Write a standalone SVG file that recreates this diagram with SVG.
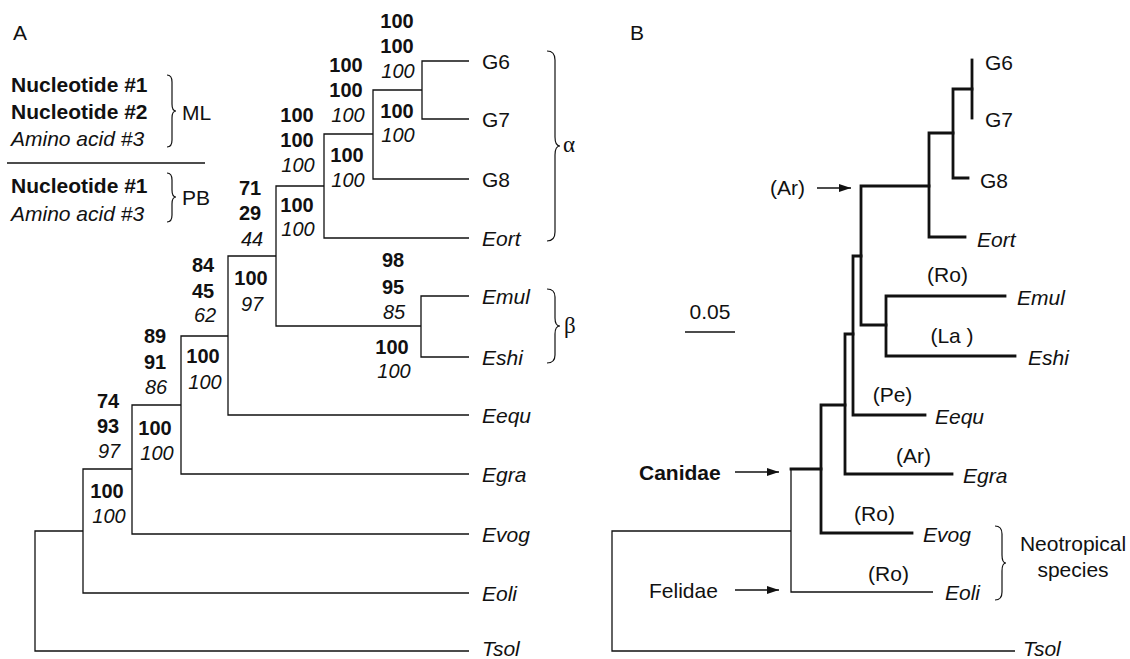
<svg xmlns="http://www.w3.org/2000/svg" width="1130" height="659" viewBox="0 0 1130 659">
<style>
text{fill:#111;font-family:"Liberation Sans",Arial,sans-serif}
.b{font-weight:bold;font-size:20px;text-anchor:middle}
.i{font-style:italic;font-size:20px;text-anchor:middle}
.lg{font-weight:bold;font-size:21px}
.lgi{font-style:italic;font-size:21px}
.t{font-size:21px}
.ti{font-size:21px;font-style:italic}
.c{text-anchor:middle}
.gr{font-family:"Liberation Serif","DejaVu Serif",serif;font-size:23px}
.thin{fill:none;stroke:#111;stroke-width:1.3}
.thick{fill:none;stroke:#111;stroke-width:2.8;stroke-linecap:square}
.br{fill:none;stroke:#111;stroke-width:1.2}
</style>
<defs>
<marker id="ah" markerUnits="userSpaceOnUse" markerWidth="12" markerHeight="8" refX="12" refY="4" orient="auto">
<path d="M0,0 L12,4 L0,8 z" fill="#111"/>
</marker>
</defs>
<g id="panel-labels">
<text class="t" x="13" y="40">A</text>
<text class="t" x="630" y="40">B</text>
</g>
<g id="legend">
<text class="lg" x="11" y="92">Nucleotide #1</text>
<text class="lg" x="11" y="119">Nucleotide #2</text>
<text class="lgi" x="11" y="146">Amino acid #3</text>
<path class="br" d="M167,75 Q172,75 172,82 V104 Q172,111 176,111 Q172,111 172,118 V140 Q172,147 167,147"/>
<text class="t" x="182" y="120">ML</text>
<path class="thin" d="M7,163 H205"/>
<text class="lg" x="11" y="193">Nucleotide #1</text>
<text class="lgi" x="11" y="221">Amino acid #3</text>
<path class="br" d="M167,173 Q172,173 172,180 V190 Q172,197 176,197 Q172,197 172,204 V215 Q172,222 167,222"/>
<text class="t" x="182" y="205">PB</text>
</g>
<g id="connectors-A">
<path class="thin" d="M469,61 H422 V119 H469"/>
<path class="thin" d="M422,90 H373 V179 H469"/>
<path class="thin" d="M373,134 H324 V238 H469"/>
<path class="thin" d="M324,186 H276 V326 H421"/>
<path class="thin" d="M469,296 H421 V357 H469"/>
<path class="thin" d="M276,256 H228 V415 H469"/>
<path class="thin" d="M228,336 H181 V474 H469"/>
<path class="thin" d="M181,405 H132 V534 H469"/>
<path class="thin" d="M132,469 H83 V593 H469"/>
<path class="thin" d="M83,531 H35 V651 H469"/>
</g>
<g id="support-A">
<g id="s-g6g7"><text class="b" x="397" y="28">100</text><text class="b" x="397" y="53">100</text><text class="i" x="398" y="78">100</text><text class="b" x="397" y="118">100</text><text class="i" x="398" y="142">100</text></g>
<g id="s-g8"><text class="b" x="346" y="72">100</text><text class="b" x="346" y="97">100</text><text class="i" x="348" y="122">100</text><text class="b" x="347" y="162">100</text><text class="i" x="348" y="187">100</text></g>
<g id="s-alpha"><text class="b" x="297" y="122">100</text><text class="b" x="297" y="147">100</text><text class="i" x="298" y="172">100</text><text class="b" x="297" y="212">100</text><text class="i" x="298" y="236">100</text></g>
<g id="s-ab"><text class="b" x="250" y="195">71</text><text class="b" x="250" y="220">29</text><text class="i" x="252" y="246">44</text><text class="b" x="251" y="285">100</text><text class="i" x="252" y="311">97</text></g>
<g id="s-beta"><text class="b" x="393" y="267">98</text><text class="b" x="393" y="294">95</text><text class="i" x="394" y="319">85</text><text class="b" x="392" y="354">100</text><text class="i" x="394" y="378">100</text></g>
<g id="s-eequ"><text class="b" x="203" y="272">84</text><text class="b" x="203" y="298">45</text><text class="i" x="205" y="322">62</text><text class="b" x="203" y="363">100</text><text class="i" x="205" y="389">100</text></g>
<g id="s-egra"><text class="b" x="155" y="343">89</text><text class="b" x="155" y="369">91</text><text class="i" x="156" y="394">86</text><text class="b" x="155" y="435">100</text><text class="i" x="157" y="460">100</text></g>
<g id="s-evog"><text class="b" x="108" y="408">74</text><text class="b" x="108" y="433">93</text><text class="i" x="109" y="458">97</text><text class="b" x="107" y="498">100</text><text class="i" x="109" y="523">100</text></g>
</g>
<g id="tips-A">
<text class="t" x="482" y="68.5">G6</text>
<text class="t" x="482" y="126.5">G7</text>
<text class="t" x="482" y="186.5">G8</text>
<text class="ti" x="482" y="245.5">Eort</text>
<text class="ti" x="482" y="303.5">Emul</text>
<text class="ti" x="482" y="364.5">Eshi</text>
<text class="ti" x="482" y="422.5">Eequ</text>
<text class="ti" x="482" y="481.5">Egra</text>
<text class="ti" x="482" y="541.5">Evog</text>
<text class="ti" x="482" y="600.5">Eoli</text>
<text class="ti" x="482" y="656">Tsol</text>
</g>
<g id="groups-A">
<path class="br" d="M547,51 Q555,51 555,60 V137 Q555,146 560,146 Q555,146 555,155 V232 Q555,241 547,241"/>
<text class="gr" x="563" y="152">α</text>
<path class="br" d="M547,289 Q555,289 555,297 V318 Q555,326 560,326 Q555,326 555,334 V355 Q555,363 547,363"/>
<text class="gr" x="564" y="333">β</text>
</g>
<g id="connectors-B">
<path class="thick" d="M972,60 V118"/>
<path class="thick" d="M972,89 H953 V178 H968"/>
<path class="thick" d="M953,133 H929 V237 H965"/>
<path class="thick" d="M929,186 H861 V325 H886"/>
<path class="thick" d="M1005,296 H886 V356 H1015"/>
<path class="thick" d="M861,256 H853 V415 H925"/>
<path class="thick" d="M853,334 H845 V474 H952"/>
<path class="thick" d="M845,405 H821 V533 H912"/>
<path class="thick" d="M821,469 H791"/>
<path class="thin" d="M791,469 V592 H933"/>
<path class="thin" d="M791,531 H612 V651 H1015"/>
<path class="thin" d="M817,188 H851" marker-end="url(#ah)"/>
<path class="thin" d="M735,472 H779" marker-end="url(#ah)"/>
<path class="thin" d="M735,590 H779" marker-end="url(#ah)"/>
<path class="thin" d="M685,332 H735"/>
</g>
<g id="tips-B">
<text class="t" x="985" y="69.5">G6</text>
<text class="t" x="985" y="126.5">G7</text>
<text class="t" x="980" y="187.5">G8</text>
<text class="ti" x="977" y="246.5">Eort</text>
<text class="ti" x="1017" y="304.5">Emul</text>
<text class="ti" x="1028" y="364.5">Eshi</text>
<text class="ti" x="935" y="423.5">Eequ</text>
<text class="ti" x="963" y="482.5">Egra</text>
<text class="ti" x="923" y="542">Evog</text>
<text class="ti" x="945" y="600">Eoli</text>
<text class="ti" x="1023" y="656">Tsol</text>
</g>
<g id="annotations-B">
<text class="t" x="805" y="194.5" text-anchor="end">(Ar)</text>
<text class="t c" x="947.5" y="281.5">(Ro)</text>
<text class="t c" x="952" y="342.5">(La )</text>
<text class="t c" x="892.5" y="401.5">(Pe)</text>
<text class="t c" x="913.5" y="462.5">(Ar)</text>
<text class="t c" x="874.5" y="520.5">(Ro)</text>
<text class="t c" x="888.5" y="580.5">(Ro)</text>
<text class="lg" x="639" y="479.5">Canidae</text>
<text class="t" x="649" y="597.5">Felidae</text>
<text class="t c" x="710" y="318.5">0.05</text>
<path class="br" d="M995,526 Q1002,526 1002,534 V555 Q1002,563 1006,563 Q1002,563 1002,571 V592 Q1002,600 995,600"/>
<text class="t c" x="1073" y="551">Neotropical</text>
<text class="t c" x="1073" y="577">species</text>
</g>
</svg>
